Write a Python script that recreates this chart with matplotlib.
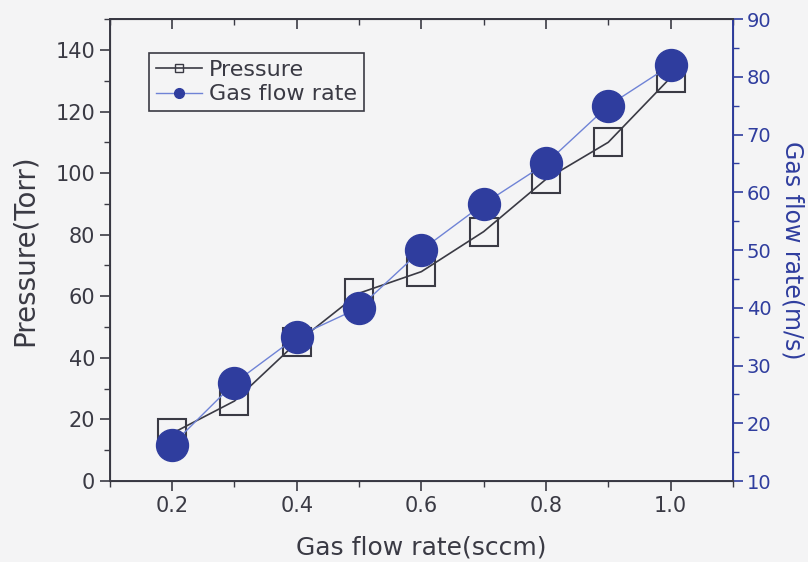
import matplotlib
matplotlib.use("Agg")
import matplotlib.pyplot as plt
from matplotlib.lines import Line2D
from matplotlib.ticker import MultipleLocator

# data
flow_sccm = [0.2, 0.3, 0.4, 0.5, 0.6, 0.7, 0.8, 0.9, 1.0]
pressure_torr = [15.5, 26, 45, 61, 68, 81, 98, 110, 131]
gas_speed = [16.3, 27, 35, 40, 50, 58, 65, 75, 82]

bg = "#f4f4f5"
dark = "#3a3a44"
blue = "#2f3d9e"
light_blue = "#6f83d6"

fig = plt.figure(figsize=(8.08, 5.62), dpi=100, facecolor=bg)
ax = fig.add_axes([0.136, 0.144, 0.771, 0.822], facecolor=bg)
ax2 = ax.twinx()

ax.plot(flow_sccm, pressure_torr, color=dark, lw=1.2, marker="s", ms=20,
        mfc="none", mec=dark, mew=1.5, zorder=2)
ax2.plot(flow_sccm, gas_speed, color=light_blue, lw=1.0, marker="o", ms=23,
         mfc=blue, mec=blue, zorder=3)

ax.set_xlim(0.1, 1.1)
ax.set_ylim(0, 150)
ax2.set_ylim(10, 90)

ax.set_xticks([0.2, 0.4, 0.6, 0.8, 1.0])
ax.set_xticklabels(["0.2", "0.4", "0.6", "0.8", "1.0"])
ax.xaxis.set_minor_locator(MultipleLocator(0.1))
ax.set_yticks([0, 20, 40, 60, 80, 100, 120, 140])
ax.yaxis.set_minor_locator(MultipleLocator(10))
ax2.yaxis.set_major_locator(MultipleLocator(10))
ax2.yaxis.set_minor_locator(MultipleLocator(5))

for lab in ax.get_xticklabels() + ax.get_yticklabels():
    lab.set_fontsize(15)
    lab.set_color(dark)
for lab in ax2.get_yticklabels():
    lab.set_fontsize(14)
    lab.set_color(blue)

ax.tick_params(axis="both", which="major", direction="out", length=7, width=1.2, color=dark)
ax.tick_params(axis="both", which="minor", direction="out", length=4, width=1.0, color=dark)
ax2.tick_params(axis="y", which="major", direction="out", length=7, width=1.2, color=blue, pad=3)
ax2.tick_params(axis="y", which="minor", direction="out", length=4, width=1.0, color=blue)

# top spine ticks point inward
top = ax.secondary_xaxis("top")
top.set_xticks([0.2, 0.4, 0.6, 0.8, 1.0])
top.xaxis.set_minor_locator(MultipleLocator(0.1))
top.tick_params(which="major", direction="in", length=7, width=1.2, color=dark, labeltop=False)
top.tick_params(which="minor", direction="in", length=4, width=1.0, color=dark)
top.spines["top"].set_color(dark)
top.spines["top"].set_linewidth(1.4)

for side in ["left", "bottom", "top"]:
    ax2.spines[side].set_color(dark)
    ax2.spines[side].set_linewidth(1.4)
ax2.spines["right"].set_color(blue)
ax2.spines["right"].set_linewidth(1.4)

ax.set_xlabel("Gas flow rate(sccm)", fontsize=18, color=dark, labelpad=14)
ax.set_ylabel("Pressure(Torr)", fontsize=20, color=dark, labelpad=12)
ax2.set_ylabel("Gas flow rate(m/s)", fontsize=17, color=blue, rotation=270, labelpad=24)

handles = [
    Line2D([], [], color=dark, lw=1.2, marker="s", ms=6, mfc="none", mec=dark),
    Line2D([], [], color=light_blue, lw=1.0, marker="o", ms=7, mfc=blue, mec=blue),
]
leg = ax2.legend(handles, ["Pressure", "Gas flow rate"], loc="upper left",
                 bbox_to_anchor=(0.045, 0.95), fontsize=16, frameon=True,
                 fancybox=False, edgecolor=dark, facecolor=bg, framealpha=1,
                 handlelength=2.1, handletextpad=0.3, borderpad=0.3, labelspacing=0.2)
leg.get_frame().set_linewidth(1.2)
for t in leg.get_texts():
    t.set_color(dark)

fig.savefig("out.png", dpi=100, facecolor=bg)
